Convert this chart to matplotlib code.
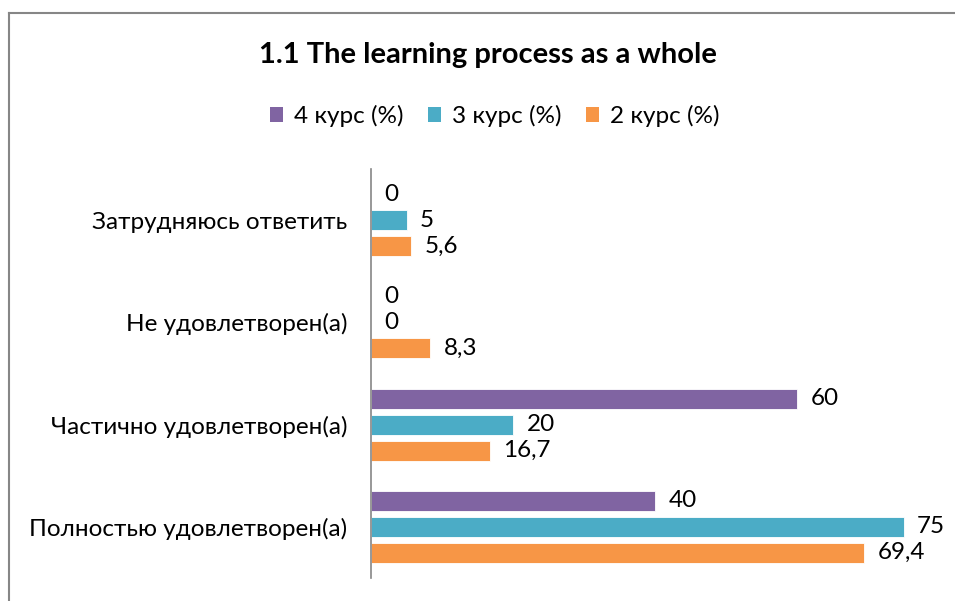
import matplotlib
matplotlib.use('Agg')
import matplotlib.pyplot as plt
from matplotlib.lines import Line2D
from matplotlib.patches import Patch

# Данные диаграммы (снизу вверх)
categories = ['Полностью удовлетворен(а)', 'Частично удовлетворен(а)',
              'Не удовлетворен(а)', 'Затрудняюсь ответить']
series_names = ['4 курс (%)', '3 курс (%)', '2 курс (%)']
kurs4 = [40, 60, 0, 0]
kurs3 = [75, 20, 0, 5]
kurs2 = [69.4, 16.7, 8.3, 5.6]
colors = ['#8064A2', '#4BACC6', '#F79646']

plt.rcParams['font.family'] = ['Lato', 'Open Sans', 'DejaVu Sans']

fig = plt.figure(figsize=(9.55, 6.01), dpi=100)
ax = fig.add_axes([0.3885, 0.0383, 0.5948, 0.6805])

step = 0.2537
height = 0.195
offsets = [step, 0, -step]
for vals, off, col in zip([kurs4, kurs3, kurs2], offsets, colors):
    ys = [i + off for i in range(len(categories))]
    ax.barh(ys, vals, height=height, color=col, edgecolor='white', linewidth=0.6)
    for y, v in zip(ys, vals):
        txt = f'{v:g}'.replace('.', ',')
        ax.text(v + 1.9, y, txt, va='center', ha='left', fontsize=17.5)

ax.set_xlim(0, 80)
ax.set_ylim(-0.5, 3.5)
ax.set_yticks(range(len(categories)))
ax.set_yticklabels(categories, fontsize=17.5)
ax.tick_params(axis='y', length=0, pad=17)
ax.set_xticks([])
for s in ['top', 'right', 'bottom']:
    ax.spines[s].set_visible(False)
ax.spines['left'].set_color('#868686')
ax.spines['left'].set_linewidth(1.2)

fig.text(0.511, 0.908, '1.1 The learning process as a whole', ha='center', va='center',
         fontsize=21, fontweight='bold')

handles = [Patch(facecolor=c, edgecolor='none') for c in colors]
fig.legend(handles, series_names, loc='center', bbox_to_anchor=(0.518, 0.807), ncol=3,
           frameon=False, fontsize=17.5, handlelength=0.55, handleheight=0.55,
           handletextpad=0.45, columnspacing=1.0)

# рамка области диаграммы
fig.add_artist(Line2D([9 / 955, 9 / 955], [0, 1 - 12.5 / 601], color='#868686', linewidth=1.5))
fig.add_artist(Line2D([9 / 955, 1], [1 - 12.5 / 601, 1 - 12.5 / 601], color='#868686', linewidth=1.5))

fig.savefig('out.png', dpi=100)
